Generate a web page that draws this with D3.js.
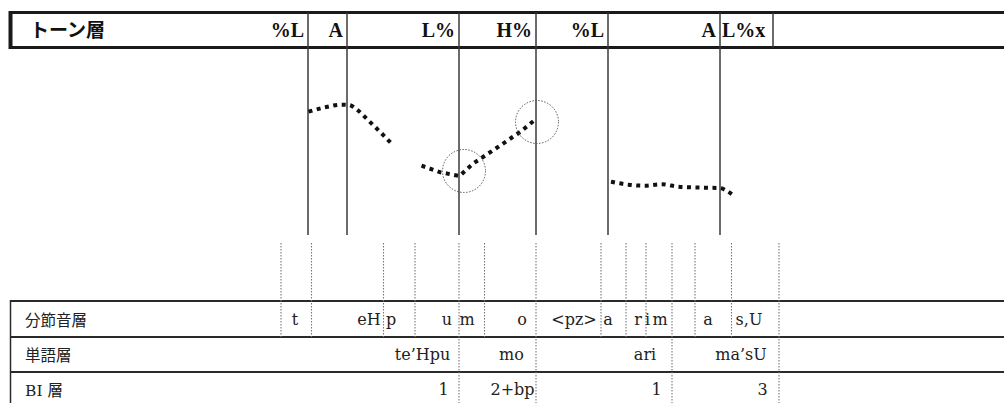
<!DOCTYPE html>
<html><head><meta charset="utf-8">
<script src="https://cdn.jsdelivr.net/npm/d3@7/dist/d3.min.js"></script>
<style>html,body{margin:0;padding:0;background:#fff;}svg{display:block;}</style>
</head><body>
<script>
// ---- data (time in seconds, F0 in Hz) ----
const toneLabels = ["%L", "A", "L%", "H%", "%L", "A", "L%x"];
const toneTimes  = [0.596, 0.674, 0.898, 1.052, 1.196, 1.420, 1.526];

const seg1T  = [0.597, 0.630, 0.663, 0.678, 0.693, 0.718, 0.743, 0.767];
const seg1Hz = [184.3, 188.7, 191.3, 191.0, 186.7, 175.0, 162.7, 150.3];
const seg2T  = [0.823, 0.861, 0.899, 0.925, 0.973, 1.021, 1.048];
const seg2Hz = [130.3, 123.7, 120.0, 132.0, 148.0, 164.3, 175.3];
const seg3T  = [1.202, 1.237, 1.270, 1.303, 1.337, 1.387, 1.420, 1.435, 1.448];
const seg3Hz = [114.3, 111.3, 110.3, 111.7, 109.3, 108.3, 108.0, 104.7, 100.3];

const circleT  = [0.908, 1.054];
const circleHz = [125, 174];

const segBoundaries  = [0.542, 0.603, 0.747, 0.810, 0.898, 0.949, 1.052, 1.182, 1.232, 1.272, 1.324, 1.370, 1.443, 1.538];
const wordBoundaries = [0.898, 1.052, 1.324, 1.538];

const tierNames = ["分節音層", "単語層", "BI 層"];
const phoneLabels = ["t", "eH", "p", "u", "m", "o", "<pz>", "a", "r", "i", "m", "a", "s,U"];
const phoneTimes  = [0.570, 0.718, 0.762, 0.874, 0.914, 1.024, 1.128, 1.196, 1.256, 1.275, 1.300, 1.396, 1.478];
const wordLabels  = ["te\u2019Hpu", "mo", "ari", "ma\u2019sU"];
const wordTimes   = [0.825, 1.003, 1.270, 1.462];
const biLabels    = ["1", "2+bp", "1", "3"];
const biTimes     = [0.867, 1.005, 1.293, 1.505];

// ---- layout ----
const W = 1004, H = 403;
const svg = d3.select("body").append("svg").attr("width", W).attr("height", H);

const x = d3.scaleLinear().domain([0, 2]).range([10, 1010]);
const y = d3.scaleLinear().domain([60, 240]).range([236, 56]);

const serif = "'Liberation Serif', 'Times New Roman', serif";
const cjk = "'Noto Sans CJK JP', 'Noto Sans', sans-serif";

// ---- tone tier header ----
const hdrTop = 12.5, hdrBot = 47.5;
svg.append("line").attr("x1", 10).attr("x2", W).attr("y1", hdrTop).attr("y2", hdrTop)
  .attr("stroke", "#1a1a1a").attr("stroke-width", 3);
svg.append("line").attr("x1", 10).attr("x2", W).attr("y1", hdrBot).attr("y2", hdrBot)
  .attr("stroke", "#1a1a1a").attr("stroke-width", 3);
svg.append("line").attr("x1", 10.5).attr("x2", 10.5).attr("y1", 11).attr("y2", 49)
  .attr("stroke", "#1a1a1a").attr("stroke-width", 4);
svg.append("text").attr("x", 30).attr("y", 37).text("トーン層")
  .attr("font-family", cjk).attr("font-weight", 700).attr("font-size", 19).attr("fill", "#111");

// tone lines
svg.selectAll("line.tone").data(toneTimes).join("line").attr("class", "tone")
  .attr("x1", d => x(d)).attr("x2", d => x(d))
  .attr("y1", hdrTop)
  .attr("y2", (d, i) => i === toneTimes.length - 1 ? hdrBot : 235)
  .attr("stroke", "#3a3a3a").attr("stroke-width", 1.5);

svg.selectAll("text.tone").data(toneLabels).join("text").attr("class", "tone")
  .attr("x", (d, i) => i === toneLabels.length - 1 ? x(toneTimes[i - 1]) + 2 : x(toneTimes[i]) - 4)
  .attr("y", 37)
  .attr("text-anchor", (d, i) => i === toneLabels.length - 1 ? "start" : "end")
  .attr("font-family", serif).attr("font-weight", 700).attr("font-size", 20).attr("fill", "#111")
  .text(d => d);

// ---- pitch contour ----
const segs = [[seg1T, seg1Hz], [seg2T, seg2Hz], [seg3T, seg3Hz]];
segs.forEach(([ts, hz], k) => {
  const pts = ts.map((t, i) => [t, hz[i]]);
  const line = d3.line().x(d => x(d[0])).y(d => y(d[1]))
    .curve(k === 1 ? d3.curveLinear : d3.curveMonotoneX);
  svg.append("path").attr("d", line(pts))
    .attr("fill", "none").attr("stroke", "#111").attr("stroke-width", 4)
    .attr("stroke-dasharray", "4 4.5");
});

svg.selectAll("circle.focus").data(circleT).join("circle").attr("class", "focus")
  .attr("cx", d => x(d)).attr("cy", (d, i) => y(circleHz[i])).attr("r", 21.5)
  .attr("fill", "none").attr("stroke", "#555").attr("stroke-width", 1)
  .attr("stroke-dasharray", "1.5 1.5");

// ---- lower tiers ----
const rowTop = [301, 337, 372];
const rowBase = [325, 360, 395];
rowTop.forEach(r => {
  svg.append("line").attr("x1", 10).attr("x2", W).attr("y1", r).attr("y2", r)
    .attr("stroke", "#2a2a2a").attr("stroke-width", 2);
});
svg.append("line").attr("x1", 10.5).attr("x2", 10.5).attr("y1", 300).attr("y2", H)
  .attr("stroke", "#2a2a2a").attr("stroke-width", 1.5);

// boundary dotted lines
svg.selectAll("line.seg").data(segBoundaries).join("line").attr("class", "seg")
  .attr("x1", d => x(d)).attr("x2", d => x(d))
  .attr("y1", 243)
  .attr("y2", d => wordBoundaries.some(w => Math.abs(w - d) < 1e-6) ? H : rowTop[1])
  .attr("stroke", "#777").attr("stroke-width", 1.1).attr("stroke-dasharray", "1.5 1.5");

tierNames.forEach((n, i) => {
  svg.append("text").attr("x", 25).attr("y", rowBase[i] + 1).text(n)
    .attr("font-family", "'DejaVu Serif', 'Noto Sans CJK JP', serif").attr("font-size", 15.5).attr("fill", "#222");
});

const rowText = [[phoneLabels, phoneTimes], [wordLabels, wordTimes], [biLabels, biTimes]];
rowText.forEach(([labs, ts], r) => {
  svg.append("g").selectAll("text").data(labs).join("text")
    .attr("x", (d, i) => x(ts[i])).attr("y", rowBase[r])
    .attr("text-anchor", "middle")
    .attr("font-family", "'DejaVu Serif', serif").attr("font-size", 16).attr("fill", "#222")
    .text(d => d);
});
</script>
</body></html>
